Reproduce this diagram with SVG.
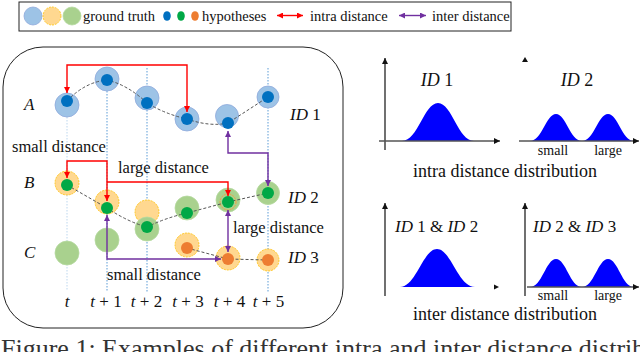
<svg xmlns="http://www.w3.org/2000/svg" width="640" height="352" viewBox="0 0 640 352">
<style>
text{font-family:"Liberation Serif","Times New Roman",serif;fill:#111}
.it{font-style:italic}
.gtb{fill:#9DC3E6;stroke:#8FAADC;stroke-width:0.8}
.gto{fill:#FFD890;stroke:#FFC000;stroke-width:0.8;stroke-dasharray:2 1}
.gtg{fill:#A9D18E;stroke:#B5D9A0;stroke-width:0.8}
.hb{fill:#0070C0}
.hg{fill:#00A846}
.ho{fill:#ED7D31}
.vl{stroke:#5B9BD5;stroke-width:1;stroke-dasharray:1.5 1.5;fill:none}
.trk{stroke:#555;stroke-width:1;stroke-dasharray:3 2;fill:none}
.red{stroke:#FF0000;stroke-width:1.4;fill:none}
.pur{stroke:#7030A0;stroke-width:1.4;fill:none}
.bell{fill:#0000FF}
.ax{stroke:#111;stroke-width:1.2;fill:none}
.axg{stroke:#555;stroke-width:1.5;fill:none}
</style>
<defs>
<marker id="ar" viewBox="0 0 6 6" refX="6" refY="3" markerWidth="6" markerHeight="6" markerUnits="userSpaceOnUse" orient="auto-start-reverse"><path d="M0,0 L6,3 L0,6 z" fill="#FF0000"/></marker>
<marker id="ap" viewBox="0 0 6 6" refX="6" refY="3" markerWidth="6" markerHeight="6" markerUnits="userSpaceOnUse" orient="auto-start-reverse"><path d="M0,0 L6,3 L0,6 z" fill="#7030A0"/></marker>
<marker id="ak" viewBox="0 0 6 6" refX="6" refY="3" markerWidth="6" markerHeight="6" markerUnits="userSpaceOnUse" orient="auto"><path d="M0,0 L6,3 L0,6 z" fill="#111"/></marker>
</defs>

<g id="legend">
<rect x="19" y="2" width="492" height="29" fill="#fff" stroke="#222" stroke-width="1"/>
<circle class="gtb" cx="33" cy="16" r="9"/>
<circle class="gto" cx="52" cy="16" r="9"/>
<circle class="gtg" cx="72" cy="16" r="9"/>
<text x="83" y="21" font-size="14.5">ground truth</text>
<ellipse class="hb" cx="167" cy="16" rx="3.8" ry="4.8"/>
<ellipse class="hg" cx="181" cy="16" rx="3.8" ry="4.8"/>
<ellipse class="ho" cx="195" cy="16" rx="3.8" ry="4.8"/>
<text x="202" y="21" font-size="14.5">hypotheses</text>
<line class="red" x1="277" y1="15.5" x2="303" y2="15.5" marker-start="url(#ar)" marker-end="url(#ar)"/>
<text x="310" y="21" font-size="14.5">intra distance</text>
<line class="pur" x1="399" y1="15.5" x2="426" y2="15.5" marker-start="url(#ap)" marker-end="url(#ap)"/>
<text x="432" y="21" font-size="14.5">inter distance</text>
</g>

<g id="frame">
<rect x="3" y="47" width="340" height="281" rx="40" ry="40" fill="none" stroke="#222" stroke-width="1"/>
</g>

<g id="timelines">
<line class="vl" x1="67" y1="117" x2="67" y2="290" style="stroke:#BDD7EE"/>
<line class="vl" x1="107" y1="91" x2="107" y2="292"/>
<line class="vl" x1="147" y1="68" x2="147" y2="292"/>
<line class="vl" x1="268" y1="68" x2="268" y2="292"/>
</g>

<g id="gt-A">
<circle class="gtb" cx="67" cy="105" r="12"/>
<circle class="gtb" cx="107" cy="79" r="12"/>
<circle class="gtb" cx="147" cy="98" r="12"/>
<circle class="gtb" cx="187" cy="119" r="12"/>
<circle class="gtb" cx="227" cy="116" r="11.5"/>
<circle class="gtb" cx="268" cy="97" r="11"/>
</g>
<g id="gt-B">
<circle class="gto" cx="67" cy="183" r="12"/>
<circle class="gto" cx="107" cy="202" r="12"/>
<circle class="gto" cx="147" cy="212" r="12"/>
<circle class="gto" cx="187" cy="245" r="12"/>
<circle class="gto" cx="228" cy="258" r="12"/>
<circle class="gto" cx="268" cy="260" r="11"/>
</g>
<g id="gt-C">
<circle class="gtg" cx="67" cy="253" r="12"/>
<circle class="gtg" cx="107" cy="240" r="12"/>
<circle class="gtg" cx="147" cy="229" r="12"/>
<circle class="gtg" cx="187" cy="208" r="12"/>
<circle class="gtg" cx="228" cy="200" r="12"/>
<circle cx="228" cy="202" r="8" fill="none" stroke="#F4A040" stroke-width="1" stroke-dasharray="2 1"/>
<circle class="gtg" cx="268" cy="193" r="11.5"/>
</g>

<g id="tracks">
<path class="trk" d="M67,101 Q85,82 107,80 Q128,85 147,103 Q165,114 187,119 Q210,127 228,123 L268,97"/>
<path class="trk" d="M67,185 L107,208 Q128,222 147,227 Q165,218 187,213 L228,202 L268,193"/>
<path class="trk" d="M187,248 L228,259 L268,260"/>
</g>

<g id="hyp-A">
<circle class="hb" cx="67" cy="101" r="6"/>
<circle class="hb" cx="107" cy="80" r="6"/>
<circle class="hb" cx="147" cy="103" r="6"/>
<circle class="hb" cx="187" cy="119" r="6"/>
<circle class="hb" cx="228" cy="123" r="6"/>
<circle class="hb" cx="268" cy="97" r="6"/>
</g>
<g id="hyp-B">
<circle class="hg" cx="67" cy="185" r="6"/>
<circle class="hg" cx="107" cy="208" r="6"/>
<circle class="hg" cx="147" cy="227" r="6"/>
<circle class="hg" cx="187" cy="213" r="6"/>
<circle class="hg" cx="228" cy="202" r="6"/>
<circle class="hg" cx="268" cy="193" r="6"/>
</g>
<g id="hyp-C">
<circle class="ho" cx="187" cy="248" r="6"/>
<circle class="ho" cx="228" cy="259" r="6"/>
<circle class="ho" cx="268" cy="260" r="6"/>
</g>

<g id="connectors">
<path class="red" d="M67,93 V65 H187 V112" marker-start="url(#ar)" marker-end="url(#ar)"/>
<path class="red" d="M67,178 V161 H107 V201" marker-start="url(#ar)" marker-end="url(#ar)"/>
<path class="red" d="M107,182 H228 V196" marker-end="url(#ar)"/>
<path class="pur" d="M228,131 V153 H268 V186" marker-start="url(#ap)" marker-end="url(#ap)"/>
<path class="pur" d="M228,210 V252" marker-start="url(#ap)" marker-end="url(#ap)"/>
<path class="pur" d="M107,215 V259 H221" marker-start="url(#ap)" marker-end="url(#ap)"/>
</g>

<g id="left-labels">
<text class="it" x="24" y="110" font-size="17">A</text>
<text class="it" x="24" y="188" font-size="17">B</text>
<text class="it" x="24" y="258" font-size="17">C</text>
<text x="290" y="120" font-size="17"><tspan class="it">ID</tspan> 1</text>
<text x="288" y="203" font-size="17"><tspan class="it">ID</tspan> 2</text>
<text x="288" y="263" font-size="17"><tspan class="it">ID</tspan> 3</text>
<text x="12" y="152" font-size="16.5">small distance</text>
<text x="118" y="173" font-size="16.5">large distance</text>
<text x="233" y="233" font-size="16.5">large distance</text>
<text x="107" y="280" font-size="16.5">small distance</text>
</g>

<g id="time-labels" font-size="17" text-anchor="middle">
<text class="it" x="67" y="307">t</text>
<text x="106" y="307"><tspan class="it">t</tspan> + 1</text>
<text x="146.5" y="307"><tspan class="it">t</tspan> + 2</text>
<text x="188" y="307"><tspan class="it">t</tspan> + 3</text>
<text x="229.5" y="307"><tspan class="it">t</tspan> + 4</text>
<text x="268.5" y="307"><tspan class="it">t</tspan> + 5</text>
</g>

<g id="plot-intra-id1">
<path class="bell" d="M402,141 C418,141 424,103 438,103 C452,103 458,141 474,141 Z"/>
<line class="ax" x1="385" y1="150" x2="385" y2="58" marker-end="url(#ak)"/>
<line class="axg" x1="379" y1="141" x2="500" y2="141" marker-end="url(#ak)"/>
<text x="437" y="86" font-size="18" text-anchor="middle"><tspan class="it">ID</tspan> 1</text>
</g>
<g id="plot-intra-id2">
<path d="M522,62 L525,57 L528,62 z" fill="#111"/>
<path class="bell" d="M530,141 C542,141 546,114 556,114 C566,114 570,141 582,141 C594,141 598,114 608,114 C618,114 622,141 634,141 Z"/>
<line class="axg" x1="519" y1="141" x2="639" y2="141" marker-end="url(#ak)"/>
<text x="577" y="86" font-size="18" text-anchor="middle"><tspan class="it">ID</tspan> 2</text>
<text x="553" y="155" font-size="14" text-anchor="middle">small</text>
<text x="608" y="155" font-size="14" text-anchor="middle">large</text>
<text x="505" y="177" font-size="18" text-anchor="middle">intra distance distribution</text>
</g>
<g id="plot-inter-id12">
<path class="bell" d="M400,287 C416,287 423,249 437,249 C451,249 458,287 475,287 Z"/>
<line class="ax" x1="385" y1="296" x2="385" y2="203" marker-end="url(#ak)"/>
<path d="M494,284.5 L499,287 L494,289.5 z" fill="#111"/>
<text x="395" y="232" font-size="17"><tspan class="it">ID</tspan> 1 &amp; <tspan class="it">ID</tspan> 2</text>
</g>
<g id="plot-inter-id23">
<path class="bell" d="M530,287 C542,287 546,259 556,259 C566,259 570,287 582,287 C594,287 598,259 608,259 C618,259 622,287 634,287 Z"/>
<line class="ax" x1="525" y1="296" x2="525" y2="203" marker-end="url(#ak)"/>
<line class="axg" x1="527" y1="287" x2="639" y2="287" marker-end="url(#ak)"/>
<text x="533" y="232" font-size="17"><tspan class="it">ID</tspan> 2 &amp; <tspan class="it">ID</tspan> 3</text>
<text x="553" y="300" font-size="14" text-anchor="middle">small</text>
<text x="608" y="300" font-size="14" text-anchor="middle">large</text>
<text x="505" y="320" font-size="18" text-anchor="middle">inter distance distribution</text>
</g>

<g id="caption">
<text x="1" y="357" font-size="26" style="fill:#333">Figure 1: Examples of different intra and inter distance distributions</text>
</g>
</svg>
